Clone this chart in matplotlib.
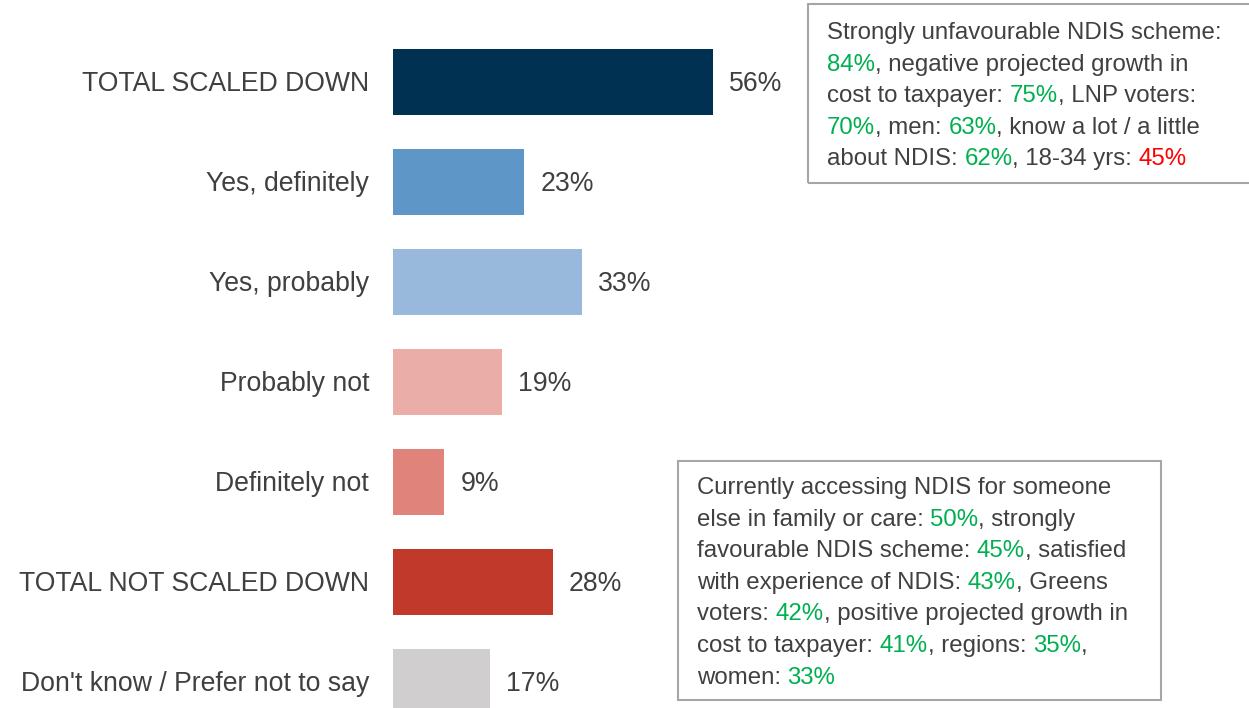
import matplotlib
matplotlib.use('Agg')
import matplotlib.pyplot as plt
from matplotlib.patches import Rectangle

# ─── Datos ────────────────────────────────────────────────────────────────────
categorias = ["TOTAL SCALED DOWN", "Yes, definitely", "Yes, probably",
              "Probably not", "Definitely not", "TOTAL NOT SCALED DOWN",
              "Don't know / Prefer not to say"]
valores = [56, 23, 33, 19, 9, 28, 17]
colores = ["#003153", "#5F96C8", "#98B9DC", "#EBADA7", "#E0837A", "#C0392B", "#D0CECF"]

GRIS = "#404040"
VERDE = "#00B050"
ROJO = "#FF0000"

# cajas de texto: listas de líneas, cada línea con (texto, color)
caja_arriba = [
    [("Strongly unfavourable NDIS scheme:", GRIS)],
    [("84%", VERDE), (", negative projected growth in", GRIS)],
    [("cost to taxpayer: ", GRIS), ("75%", VERDE), (", LNP voters:", GRIS)],
    [("70%", VERDE), (", men: ", GRIS), ("63%", VERDE), (", know a lot / a little", GRIS)],
    [("about NDIS: ", GRIS), ("62%", VERDE), (", 18-34 yrs: ", GRIS), ("45%", ROJO)],
]
caja_abajo = [
    [("Currently accessing NDIS for someone", GRIS)],
    [("else in family or care: ", GRIS), ("50%", VERDE), (", strongly", GRIS)],
    [("favourable NDIS scheme: ", GRIS), ("45%", VERDE), (", satisfied", GRIS)],
    [("with experience of NDIS: ", GRIS), ("43%", VERDE), (", Greens", GRIS)],
    [("voters: ", GRIS), ("42%", VERDE), (", positive projected growth in", GRIS)],
    [("cost to taxpayer: ", GRIS), ("41%", VERDE), (", regions: ", GRIS), ("35%", VERDE), (",", GRIS)],
    [("women: ", GRIS), ("33%", VERDE)],
]

plt.rcParams["font.family"] = ["Liberation Sans", "DejaVu Sans"]

W, H = 1249, 708
fig = plt.figure(figsize=(W / 100, H / 100), dpi=100)
fig.patch.set_facecolor("white")

# ejes: 0% en x=393 px, 5.714 px por punto porcentual
x0 = 393
escala = 320 / 56
ax = fig.add_axes([x0 / W, 0, 1 - x0 / W, 1])
ax.set_xlim(0, (W - x0) / escala)
ax.set_ylim(6.26, -0.82)
ax.axis("off")

pos = list(range(len(categorias)))
ax.barh(pos, valores, height=0.66, color=colores)

for i, (cat, v) in enumerate(zip(categorias, valores)):
    ax.text(-24 / escala, i + 0.02, cat, ha="right", va="center", fontsize=19.2, color=GRIS)
    ax.text(v + 16 / escala, i + 0.02, f"{v}%", ha="left", va="center", fontsize=19.2, color=GRIS)

# ─── Cajas con texto multicolor (coordenadas en píxeles) ─────────────────────
renderer = fig.canvas.get_renderer()


def caja(lineas, x, y_top, bx, by, bw, bh, paso=31.6, fs=17.3):
    fig.patches.append(Rectangle((bx / W, 1 - (by + bh) / H), bw / W, bh / H,
                                 transform=fig.transFigure, fill=False,
                                 edgecolor="#A6A6A6", linewidth=1.5))
    for k, linea in enumerate(lineas):
        xx = x
        yy = 1 - (y_top + k * paso) / H
        for texto, col in linea:
            t = fig.text(xx / W, yy, texto, color=col, fontsize=fs,
                         ha="left", va="center")
            bb = t.get_window_extent(renderer=renderer)
            xx += bb.width


caja(caja_arriba, 827, 33, 808, 4, 460, 179)
caja(caja_abajo, 697, 488, 678, 461, 483, 239)

fig.savefig("out.png", dpi=100, facecolor="white")
